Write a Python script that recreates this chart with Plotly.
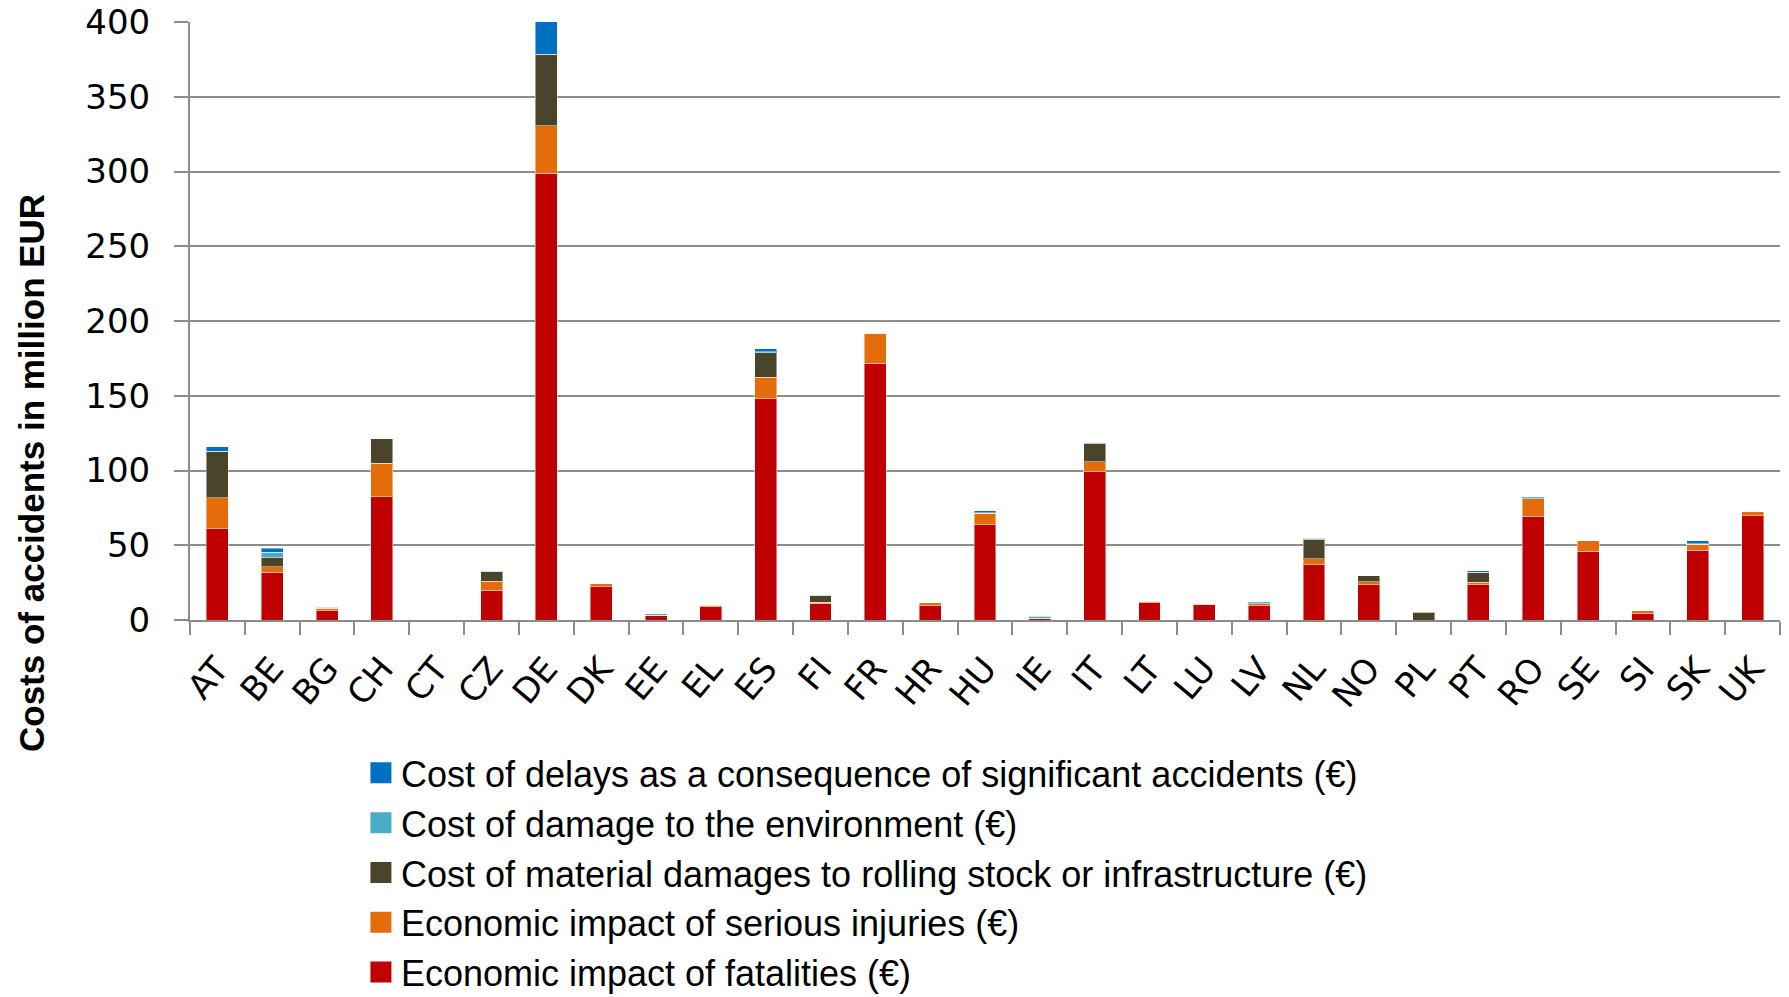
import plotly.graph_objects as go

countries = ["AT", "BE", "BG", "CH", "CT", "CZ", "DE", "DK", "EE", "EL", "ES", "FI", "FR", "HR",
             "HU", "IE", "IT", "LT", "LU", "LV", "NL", "NO", "PL", "PT", "RO", "SE", "SI", "SK", "UK"]

fatalities = [61.2, 32.1, 6.2, 82.3, 0, 20.0, 298.7, 22.4, 3.1, 8.9, 148.1, 11.1, 171.6, 9.8,
              63.8, 1.3, 99.3, 11.6, 10.1, 9.6, 37.1, 23.7, 0.0, 23.7, 69.4, 45.9, 4.5, 46.5, 69.6]
injuries = [20.5, 3.5, 1.8, 22.7, 0, 6.0, 31.9, 1.8, 0.2, 0.9, 14.3, 0.9, 20.3, 1.8,
            7.6, 0.0, 6.7, 1.1, 0.0, 1.2, 3.8, 1.8, 0.0, 1.6, 11.8, 7.1, 1.8, 4.1, 2.9]
material = [30.7, 6.5, 0.0, 16.1, 0, 6.3, 47.6, 0.0, 0.0, 0.0, 16.5, 4.3, 0.0, 0.0,
            0.0, 0.0, 12.3, 0.0, 0.4, 0.2, 13.2, 4.0, 5.2, 6.5, 0.0, 0.0, 0.0, 0.0, 0.0]
environment = [0.4, 3.3, 0.5, 0.3, 0, 0.3, 0.3, 0.0, 0.9, 0.4, 0.5, 0.4, 0.0, 0.0,
               0.3, 1.2, 0.3, 0.0, 0.2, 0.6, 0.7, 0.2, 0.2, 0.2, 0.5, 0.0, 0.0, 0.3, 0.0]
delays = [3.2, 2.7, 0.2, 0.0, 0, 0.0, 22.0, 0.0, 0.0, 0.0, 2.0, 0.0, 0.0, 0.0,
          1.3, 0.0, 0.0, 0.0, 0.0, 0.3, 0.0, 0.0, 0.0, 1.1, 0.4, 0.0, 0.0, 2.1, 0.0]

series_names = [
    "Economic impact of fatalities (€)",
    "Economic impact of serious injuries (€)",
    "Cost of material damages to rolling stock or infrastructure (€)",
    "Cost of damage to the environment (€)",
    "Cost of delays as a consequence of significant accidents (€)",
]
series_values = [fatalities, injuries, material, environment, delays]
series_colors = ["#C00000", "#E46C0A", "#4A452A", "#4BACC6", "#0070C0"]

y_ticks = [0, 50, 100, 150, 200, 250, 300, 350, 400]
y_title = "Costs of accidents in million EUR"

fig = go.Figure()

# legend entries (top item first), linked to the bars through legend groups
for i in reversed(range(len(series_names))):
    fig.add_trace(go.Scatter(
        x=[None], y=[None], mode="markers", name=series_names[i],
        legendgroup=f"g{i}", showlegend=True, hoverinfo="skip",
        marker=dict(symbol="square", size=16, color=series_colors[i],
                    line=dict(color=series_colors[i], width=5)),
    ))

for i, (name, vals, col) in enumerate(zip(series_names, series_values, series_colors)):
    fig.add_trace(go.Bar(
        x=countries, y=vals, name=name, legendgroup=f"g{i}", showlegend=False,
        marker=dict(color=col, line=dict(color="rgba(255,255,255,0.45)", width=1)),
    ))

fig.update_layout(
    width=1789, height=997,
    barmode="stack", bargap=0.6,
    plot_bgcolor="white", paper_bgcolor="white",
    margin=dict(l=190, r=9, t=22, b=377, autoexpand=False),
    font=dict(family="DejaVu Sans", color="black"),
    showlegend=True,
    legend=dict(
        traceorder="grouped", tracegroupgap=0,
        xref="paper", x=0.1075, xanchor="left",
        yref="container", y=0.2548, yanchor="top",
        font=dict(family="Liberation Sans, Arial, sans-serif", size=36, color="black"),
        bgcolor="rgba(0,0,0,0)",
    ),
    annotations=[dict(
        text=f"<b>{y_title}</b>", textangle=-90,
        xref="paper", yref="paper", x=-0.1, y=0.2458,
        xanchor="center", yanchor="middle", showarrow=False,
        font=dict(size=35, family="Liberation Sans, Arial, sans-serif", color="black"),
    )],
)

fig.update_xaxes(
    type="category", automargin=False,
    showline=True, linecolor="#8C8C8C", linewidth=2,
    ticks="outside", tickson="boundaries", ticklen=13, tickwidth=2, tickcolor="#8C8C8C",
    tickangle=-50, tickfont=dict(size=34, family="DejaVu Sans", color="black"),
    ticklabelstandoff=13,
    showgrid=False,
)
fig.update_yaxes(
    range=[0, 400], tickvals=y_ticks, automargin=False,
    showline=True, linecolor="#8C8C8C", linewidth=2,
    ticks="outside", ticklen=14, tickwidth=2, tickcolor="#8C8C8C",
    tickfont=dict(size=34, family="DejaVu Sans", color="black"),
    ticklabelstandoff=17, ticklabeloverflow="allow",
    showgrid=True, gridcolor="#8C8C8C", gridwidth=2,
    zeroline=False,
)

# remove the default 8px page margin so the figure fills the window exactly
fig.write_html("out.html", config={"displayModeBar": False},
               post_script="document.body.style.margin='0';")
